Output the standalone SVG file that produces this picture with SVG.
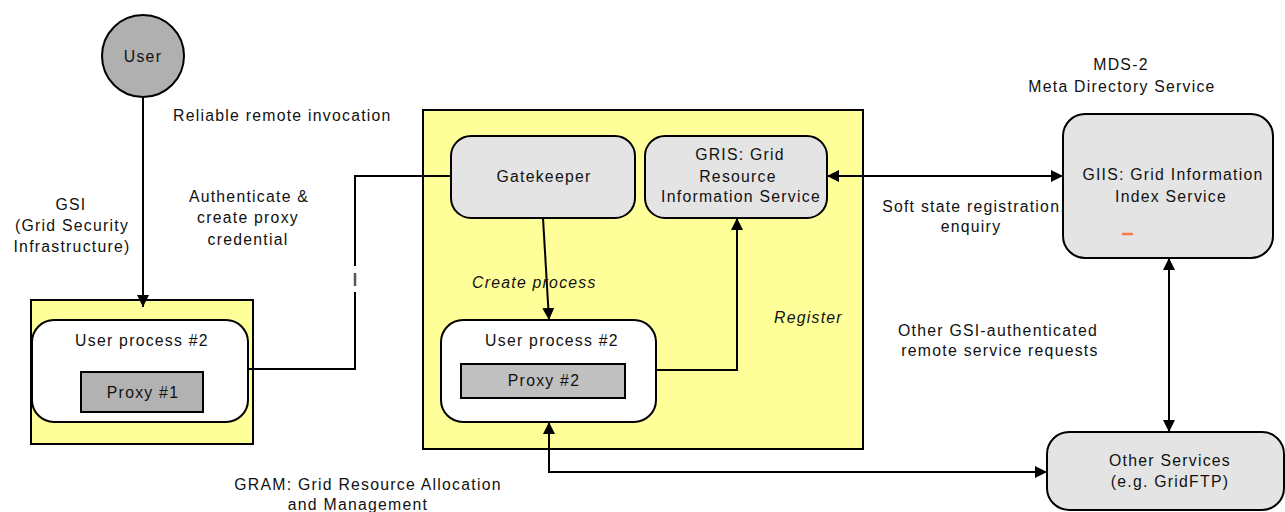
<svg xmlns="http://www.w3.org/2000/svg" width="1285" height="512" viewBox="0 0 1285 512">
<style>
text{font-family:"Liberation Sans",Arial,sans-serif;font-size:15.8px;letter-spacing:1.25px;fill:#111}
.c{text-anchor:middle}
.i{font-style:italic}
.yel{fill:#ffff99;stroke:#000;stroke-width:2}
.node{fill:#e4e4e4;stroke:#000;stroke-width:2}
.wht{fill:#fff;stroke:#000;stroke-width:2}
.ln{fill:none;stroke:#000;stroke-width:2}
</style>
<defs>
<marker id="arr" markerUnits="userSpaceOnUse" markerWidth="12" markerHeight="12" viewBox="0 0 12 12" refX="12" refY="6" orient="auto-start-reverse">
<path d="M0,0 L12,6 L0,12 z" fill="#000"/>
</marker>
</defs>
<rect width="1285" height="512" fill="#fff"/>

<!-- containers -->
<g id="left-host">
<rect class="yel" x="31" y="300" width="222" height="144"/>
</g>
<g id="resource-host">
<rect class="yel" x="423" y="110" width="440" height="339"/>
</g>

<g id="user">
<circle cx="143" cy="56" r="41" fill="#b0b0b0" stroke="#000" stroke-width="2"/>
<text class="c" x="143" y="62">User</text>
</g>

<g id="user-process-1">
<rect class="wht" x="32" y="320" width="216" height="102" rx="22"/>
<text class="c" x="142" y="346">User process #2</text>
</g>
<g id="proxy-1">
<rect x="81" y="372" width="122" height="40" fill="#b2b2b2" stroke="#000" stroke-width="2"/>
<text class="c" x="143" y="398">Proxy #1</text>
</g>

<g id="gatekeeper">
<rect class="node" x="451" y="136" width="184" height="82" rx="20"/>
<text class="c" x="544" y="182">Gatekeeper</text>
</g>

<g id="gris">
<rect class="node" x="645" y="136" width="182" height="82" rx="20"/>
<text class="c" x="740" y="160">GRIS: Grid</text>
<text class="c" x="738" y="182">Resource</text>
<text class="c" x="741" y="202">Information Service</text>
</g>

<g id="user-process-2">
<rect class="wht" x="441" y="320" width="215" height="102" rx="22"/>
<text class="c" x="552" y="346">User process #2</text>
</g>
<g id="proxy-2">
<rect x="461" y="364" width="164" height="34" fill="#c0c0c0" stroke="#000" stroke-width="2"/>
<text class="c" x="544" y="386">Proxy #2</text>
</g>

<g id="giis">
<rect class="node" x="1063" y="114" width="210" height="144" rx="22"/>
<text class="c" x="1173" y="180">GIIS: Grid Information</text>
<text class="c" x="1171" y="202">Index Service</text>
<line x1="1122" y1="234" x2="1133" y2="234" stroke="#f77a4a" stroke-width="2.5"/>
</g>

<g id="other-services">
<rect class="node" x="1047" y="432" width="237" height="78" rx="22"/>
<text class="c" x="1170" y="466">Other Services</text>
<text class="c" x="1170" y="487">(e.g. GridFTP)</text>
</g>

<g id="connectors">
<line class="ln" x1="143" y1="97" x2="143" y2="307" marker-end="url(#arr)"/>
<path class="ln" d="M248,369 H355 V292 M355,266 V176 H451"/>
<line x1="355" y1="273" x2="355" y2="286" stroke="#555" stroke-width="2.5"/>
<line class="ln" x1="543" y1="218" x2="549" y2="320" marker-end="url(#arr)"/>
<path class="ln" d="M656,370 H737 V218" marker-end="url(#arr)"/>
<line class="ln" x1="827" y1="176" x2="1063" y2="176" marker-start="url(#arr)" marker-end="url(#arr)"/>
<line class="ln" x1="1169" y1="258" x2="1169" y2="432" marker-start="url(#arr)" marker-end="url(#arr)"/>
<path class="ln" d="M549,422 V472 H1047" marker-start="url(#arr)" marker-end="url(#arr)"/>
</g>

<g id="labels">
<text x="173" y="121">Reliable remote invocation</text>
<text class="c" x="71" y="210">GSI</text>
<text class="c" x="72" y="231">(Grid Security</text>
<text class="c" x="72" y="252">Infrastructure)</text>
<text class="c" x="249" y="202">Authenticate &amp;</text>
<text class="c" x="248" y="223">create proxy</text>
<text class="c" x="248" y="245">credential</text>
<text class="i" x="472" y="288">Create process</text>
<text class="i" x="774" y="323">Register</text>
<text class="c" x="368" y="490">GRAM: Grid Resource Allocation</text>
<text class="c" x="358" y="510">and Management</text>
<text class="c" x="1121" y="70">MDS-2</text>
<text class="c" x="1122" y="92">Meta Directory Service</text>
<text class="c" x="974" y="212">Soft state registration,</text>
<text class="c" x="971" y="232">enquiry</text>
<text class="c" x="998" y="336">Other GSI-authenticated</text>
<text class="c" x="1000" y="356">remote service requests</text>
</g>
</svg>
